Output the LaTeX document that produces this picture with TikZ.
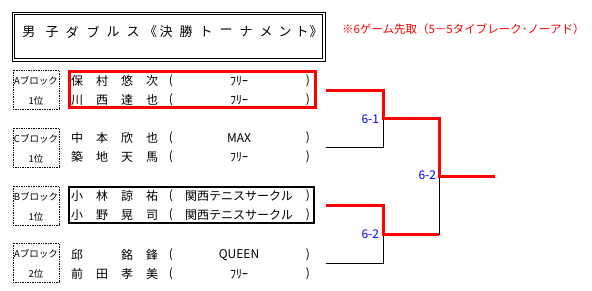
\documentclass[tikz,border=0pt]{standalone}
\usepackage{fontspec}
\newfontfamily\cjk{Noto Sans CJK JP}
\begin{document}
\begin{tikzpicture}[x=1pt,y=-1pt,
  every node/.style={inner sep=0pt,outer sep=0pt},
  ttl/.style={font=\cjk\fontsize{13}{13}\selectfont},
  nm/.style={font=\cjk\fontsize{12}{12}\selectfont},
  blk/.style={font=\cjk\fontsize{9.5}{9.5}\selectfont},
  note/.style={font=\cjk\fontsize{11.5}{11.5}\selectfont,text=red,anchor=west},
  score/.style={font=\cjk\fontsize{12}{12}\selectfont,text=blue,anchor=east},
  dotbox/.style={draw,line width=0.8pt,dash pattern=on 0.8pt off 0.9pt},
  win/.style={draw=red,line width=3pt},
  lose/.style={draw=black,line width=1pt}]
\useasboundingbox (0,0) rectangle (592,290);
% title box
\draw[line width=0.9pt] (12,12) rectangle (325,61);
\draw[line width=0.9pt] (14.5,14.5) rectangle (322.5,58.5);
\foreach \c/\x [count=\i] in {男/29,子/52,ダ/72,ブ/93,ル/113,ス/133,決/166,勝/186,ト/206,ー/226,ナ/246,メ/266,ン/285,ト/302}
  \node[ttl] (t\i) at (\x,32) {\c};
\node[ttl,anchor=east] (tl) at (157,32) {《};
\node[ttl,anchor=west] (tr) at (309.5,32) {》};
\node[note] (note) at (342,29) {※6ゲーム先取（5－5タイブレーク･ノーアド）};
% block labels
\foreach \a/\b/\top [count=\i] in {Aブロック/1位/70,Cブロック/1位/128,Bブロック/1位/186,Aブロック/2位/243}{
  \draw[dotbox] (13,\top) rectangle (59,\top+39);
  \node[blk] (la\i) at (36,\top+11) {\a};
  \node[blk] (lb\i) at (36,\top+30.5) {\b};
}
% names
\newcommand\prow[7]{%
  \node[nm] (#1a) at (77,#2) {#3};
  \node[nm] (#1b) at (102,#2) {#4};
  \node[nm] (#1c) at (127,#2) {#5};
  \node[nm] (#1d) at (152,#2) {#6};
  \node[nm] (#1o) at (171,#2) {(};
  \node[nm] (#1t) at (239,#2) {#7};
  \node[nm] (#1p) at (308,#2) {)};
}
\prow{p1}{81}{保}{村}{悠}{次}{ﾌﾘｰ}
\prow{p2}{100}{川}{西}{達}{也}{ﾌﾘｰ}
\prow{p3}{138}{中}{本}{欣}{也}{MAX}
\prow{p4}{157}{築}{地}{天}{馬}{ﾌﾘｰ}
\prow{p5}{196}{小}{林}{諒}{祐}{関西テニスサークル}
\prow{p6}{215}{小}{野}{晃}{司}{関西テニスサークル}
\prow{p7}{255}{邱}{}{銘}{鋒}{QUEEN}
\prow{p8}{274}{前}{田}{孝}{美}{ﾌﾘｰ}
% pair boxes
\draw[draw=red,line width=3pt] (69.5,71.5) rectangle (315.5,107.5);
\draw[line width=2pt] (69,187) rectangle (314,223);
% bracket
\coordinate (a1) at (326,90);  \coordinate (a2) at (326,147);
\coordinate (a3) at (326,205); \coordinate (a4) at (326,263);
\coordinate (m1) at (383,118); \coordinate (m2) at (383,234);
\coordinate (f) at (439,176);  \coordinate (w) at (495,176);
\draw[lose] (a2) -| (m1);
\draw[lose] (a4) -| (m2);
\draw[lose] (m2) -| (f);
\draw[win] (a1) -| (m1) -- (m1 -| f) -- (f) -- (w);
\draw[win] (a3) -| (m2) -- (m2 -| f);
\node[score] (s1) at (379,119) {6-1};
\node[score] (s2) at (379,234) {6-2};
\node[score] (s3) at (436,175) {6-2};
\end{tikzpicture}
\end{document}
